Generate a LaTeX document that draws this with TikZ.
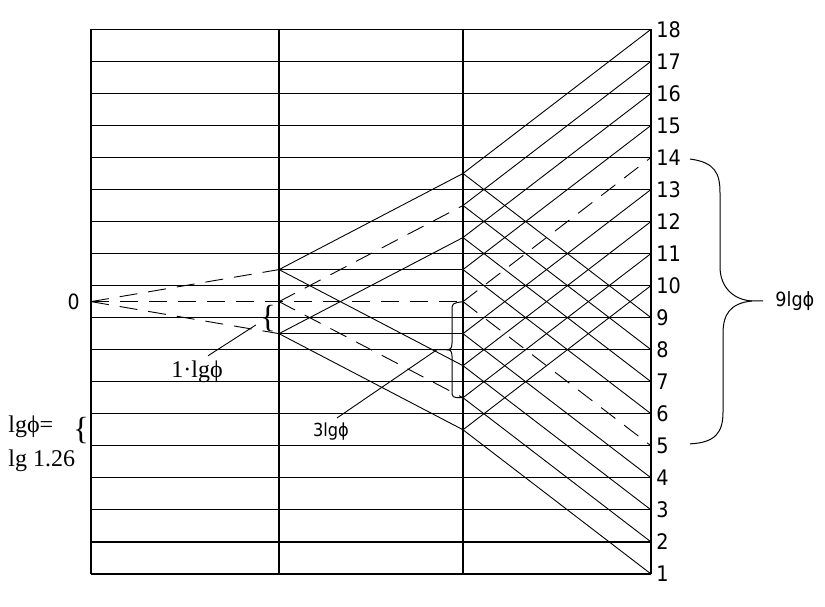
\documentclass[tikz,border=0pt]{standalone}
\usepackage{fontspec}
\setmainfont{Liberation Serif}
\setsansfont{DejaVu Sans}
\newfontfamily\condsans{DejaVu Sans Condensed}
\usetikzlibrary{positioning,calc}

\begin{document}
\begin{tikzpicture}[
        x=0.5pt,
        y=16.02pt,
        gridline/.style={line width=0.6pt},
        ray/.style={line width=0.45pt},
        dashray/.style={line width=0.45pt, dash pattern=on 9pt off 5.5pt},
        bracket/.style={line width=0.5pt},
        numlabel/.style={inner sep=0pt, font=\condsans\fontsize{10.7}{13}\selectfont},
        note/.style={inner sep=0pt, font=\fontsize{12}{17}\selectfont},
        sansnote/.style={inner sep=0pt, font=\condsans\fontsize{10.5}{12}\selectfont},
        bracechar/.style={inner sep=0pt, font=\fontsize{16}{16}\selectfont}
    ]

    \useasboundingbox (0,0) rectangle (825,18.914);

    % grid of the levels 1..18
    \foreach \lev in {1,...,18} {
        \coordinate (r-\lev) at (651,\lev);
        \draw[gridline] (91,\lev) -- (r-\lev);
        \node[numlabel, right=2.5pt of r-\lev] (n-\lev) {\lev};
    }
    \foreach \col in {91,279,463,651}
        \draw[gridline] (\col,1) -- (\col,18);

    % points on the columns
    \coordinate (zero) at (91,9.5);
    \foreach \k in {1,2,3}
        \coordinate (l-\k) at (279,\k+7.5);
    \foreach \k in {1,...,9}
        \coordinate (m-\k) at (463,\k+4.5);

    % first step
    \draw[dashray] (zero) -- (l-3);
    \draw[dashray] (zero) -- (l-1);
    \draw[dashray] (zero) -- (m-5);

    % second step
    \draw[gridline] (l-3) -- (m-6);
    \draw[gridline] (l-1) -- (m-4);
    \draw[ray] (l-3) -- (m-9);
    \draw[ray] (l-3) -- (m-3);
    \draw[ray] (l-1) -- (m-7);
    \draw[ray] (l-1) -- (m-1);
    \draw[dashray] (l-2) -- (m-8);
    \draw[dashray] (l-2) -- (m-2);

    % third step
    \foreach \k in {1,2,3,4,6,7,8,9} {
        \pgfmathtruncatemacro{\up}{\k+9}
        \draw[ray] (m-\k) -- (r-\up);
        \draw[ray] (m-\k) -- (r-\k);
    }
    \draw[dashray] (m-5) -- (r-14);
    \draw[dashray] (m-5) -- (r-5);

    % zero and the small braces
    \node[sansnote, left=5.5pt of zero] (zerolbl) {0};

    \node[bracechar] (brace1) at (268,8.96) {\{};
    \node[note] (lbl1) at (197,7.3) {1·lgϕ};
    \draw[ray] ([xshift=5.5pt,yshift=2.5pt]lbl1.north) -- ([xshift=-2pt,yshift=-3pt]brace1.west);

    \node[bracechar] (brace2) at (81,5.49) {\{};
    \node[note, align=left, anchor=west] (phidef) at (8,5.06) {lgϕ=\\lg 1.26};

    % brace of 3 lg phi
    \coordinate (tip3) at (437,8.0);
    \draw[bracket] (m-5) .. controls (452,9.45) .. (452,9.2) -- (452,8.2)
        .. controls (452,8.02) and (450,8.0) .. (446,8.0) -- (tip3);
    \draw[bracket] (446,8.0) .. controls (450,8.0) and (452,7.98) .. (452,7.8)
        -- (452,6.75) .. controls (452,6.5) .. (m-2);
    \node[sansnote, font=\condsans\fontsize{9}{10}\selectfont] (lbl3) at (331,5.46) {3lgϕ};
    \draw[ray] ([xshift=3pt,yshift=2pt]lbl3.north) -- (tip3);

    % brace of 9 lg phi
    \coordinate (tip9) at (763,9.52);
    \draw[bracket] (690,13.95) .. controls (715,13.85) and (720,13.5) .. (720,12.9)
        -- (720,10.6) .. controls (720,9.9) and (735,9.55) .. (752,9.52) -- (tip9);
    \draw[bracket] (752,9.52) .. controls (730,9.45) and (723,9.1) .. (723,8.5)
        -- (723,6.05) .. controls (723,5.4) and (715,5.1) .. (690,5.06);
    \node[sansnote, font=\condsans\fontsize{9.8}{11}\selectfont, right=6pt of tip9] (lbl9) {9lgϕ};

\end{tikzpicture}
\end{document}
